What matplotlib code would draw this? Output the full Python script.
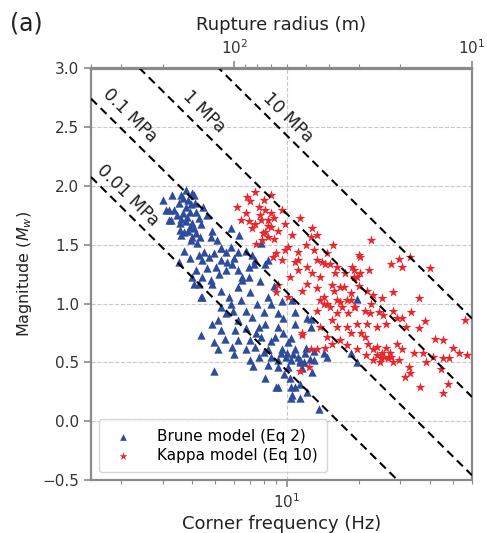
import numpy as np
import matplotlib
matplotlib.use("Agg")
import matplotlib.pyplot as plt
from matplotlib.ticker import LogLocator, LogFormatterMathtext, NullFormatter, FixedLocator

# corner frequency (Hz) and magnitude, Brune model (Eq 2)
brune_fc = [3.6, 4.0, 3.75, 3.2, 3.35, 3.75, 3.95, 4.15, 3.65, 3.8, 3.2, 3.55, 4.0, 4.35, 3.9, 4.15, 3.7, 3.95, 4.2, 3.1,
            3.25, 3.65, 4.05, 3.5, 3.85, 4.1, 3.45, 3.6, 3.9, 4.25, 3.75, 3.85, 4.05, 3.55, 4.3, 3.0, 3.3, 4.45, 4.6, 3.6,
            4.0, 4.85, 4.8, 5.1, 4.5, 4.25, 3.9, 4.4, 5.3, 5.55, 5.8, 6.25, 6.7, 5.3, 5.05, 5.55, 5.85, 6.25, 6.9, 7.35,
            4.15, 4.4, 4.05, 4.8, 5.8, 5.3, 7.1, 8.1, 8.35, 7.3, 6.9, 4.7, 4.95, 5.6, 6.0, 3.7, 3.5, 4.6, 5.2, 6.5,
            7.8, 6.3, 4.0, 4.4, 4.25, 4.85, 5.3, 5.7, 6.25, 6.45, 7.0, 8.35, 8.6, 5.3, 5.55, 5.95, 6.7, 7.1, 6.25, 5.15,
            4.85, 5.3, 4.35, 6.05, 6.7, 7.6, 8.1, 9.2, 8.9, 7.8, 7.0, 6.25, 4.95, 5.15, 5.85, 6.7, 7.35, 8.35, 7.0, 7.6,
            8.6, 9.2, 9.9, 10.4, 11.1, 11.8, 10.1, 9.2, 8.35, 10.8, 9.5, 10.1, 8.1, 4.95, 10.4, 9.2, 10.4, 11.4, 12.2, 10.8,
            10.8, 10.4, 12.2, 12.6, 11.4, 4.35, 13.6, 10.8, 10.5, 12.8, 11.4, 9.0, 19.7, 12.6, 19.7, 18.6, 11.4, 14.3, 14.8, 13.0,
            9.2, 7.5, 8.0, 9.6, 5.8, 6.4, 7.4, 8.6, 9.6, 10.0, 10.6, 11.9, 12.5, 9.4, 8.0, 5.5, 6.0, 7.2, 9.7, 10.3,
            11.6, 12.0, 13.0, 8.8, 9.5, 10.5, 7.7]
brune_mw = [1.92, 1.94, 1.97, 1.80, 1.80, 1.82, 1.85, 1.78, 1.77, 1.74, 1.71, 1.69, 1.69, 1.68, 1.65, 1.60, 1.61, 1.54, 1.52, 1.80,
            1.71, 1.90, 1.92, 1.86, 1.88, 1.86, 1.75, 1.72, 1.78, 1.73, 1.70, 1.62, 1.64, 1.63, 1.57, 1.88, 1.92, 1.82, 1.75, 1.58,
            1.57, 1.62, 1.57, 1.54, 1.44, 1.41, 1.39, 1.37, 1.47, 1.44, 1.48, 1.44, 1.45, 1.37, 1.31, 1.29, 1.34, 1.29, 1.31, 1.37,
            1.29, 1.23, 1.17, 1.20, 1.64, 1.47, 1.41, 1.34, 1.37, 1.34, 1.23, 1.40, 1.43, 1.35, 1.39, 1.45, 1.35, 1.30, 1.25, 1.20,
            1.52, 1.58, 1.23, 1.06, 1.17, 1.17, 1.11, 1.06, 1.14, 1.23, 1.10, 1.06, 1.00, 0.97, 0.92, 0.94, 0.94, 0.89, 0.86, 0.86,
            0.83, 0.78, 0.73, 0.78, 0.79, 0.80, 0.83, 0.80, 0.72, 0.72, 0.69, 0.69, 0.67, 0.61, 0.63, 0.61, 0.63, 0.61, 0.52, 0.55,
            0.55, 0.52, 0.55, 0.52, 0.55, 0.50, 0.46, 0.46, 0.48, 0.61, 0.61, 0.67, 0.37, 0.43, 0.29, 0.29, 0.20, 0.20, 0.25, 0.93,
            0.83, 0.71, 0.88, 0.80, 0.52, 1.06, 0.10, 0.29, 0.22, 0.42, 0.32, 0.29, 1.04, 0.87, 0.50, 0.58, 0.50, 0.58, 0.55, 0.60,
            0.92, 1.00, 0.93, 0.88, 1.00, 1.03, 0.75, 0.68, 0.75, 0.58, 0.57, 0.58, 0.53, 0.58, 0.59, 0.70, 0.57, 0.47, 0.40, 0.37,
            0.45, 0.62, 0.52, 1.15, 1.02, 1.03, 1.19]

# Kappa model (Eq 10)
kappa_fc = [7.35, 6.8, 8.6, 7.0, 6.15, 7.6, 8.1, 8.6, 6.7, 6.4, 7.8, 8.35, 8.85, 7.35, 8.6, 7.1, 8.1, 9.2, 8.35, 7.85,
            8.85, 7.4, 9.85, 11.3, 12.8, 13.4, 12.6, 9.85, 9.0, 10.1, 11.1, 9.5, 8.7, 11.1, 13.0, 13.4, 14.5, 14.8, 16.3, 17.6,
            19.2, 20.3, 19.7, 10.3, 11.1, 12.2, 12.8, 13.8, 12.2, 13.4, 11.6, 9.2, 9.0, 10.1, 14.3, 15.8, 17.3, 14.3, 15.1, 16.7,
            18.6, 19.2, 16.3, 13.4, 20.1, 22.1, 27.5, 29.6, 30.5, 18.8, 19.2, 20.3, 16.0, 15.1, 14.1, 21.7, 23.0, 18.6, 16.7, 15.4,
            13.8, 14.8, 16.3, 17.9, 19.4, 21.2, 22.3, 24.3, 25.4, 27.9, 28.9, 30.5, 33.3, 31.8, 35.8, 45.1, 26.2, 23.9, 21.7, 19.7,
            17.9, 18.6, 16.3, 15.4, 13.8, 14.8, 16.7, 21.2, 23.9, 23.0, 28.9, 30.5, 34.1, 37.4, 41.1, 45.1, 47.8, 24.9, 25.6, 26.6,
            27.5, 24.6, 23.0, 27.9, 29.6, 32.5, 38.5, 44.3, 32.8, 31.3, 36.2, 47.4, 45.1, 11.6, 13.4, 14.5, 17.9, 15.4, 19.7, 21.4,
            11.6, 12.6, 11.4, 12.4, 53.0, 57.0, 56.0, 50.0, 42.0, 38.0, 36.0, 33.0, 40.0, 26.0, 25.0, 27.0, 24.0, 22.0, 20.5, 18.0,
            17.0, 22.5, 25.0, 28.0, 20.0, 10.5, 12.0, 8.0, 7.7, 8.3, 7.9, 9.5, 6.9, 10.8, 15.6, 22.6]
kappa_mw = [1.95, 1.91, 1.92, 1.87, 1.82, 1.82, 1.80, 1.77, 1.77, 1.71, 1.71, 1.71, 1.73, 1.68, 1.65, 1.64, 1.61, 1.62, 1.57, 1.54,
            1.55, 1.51, 1.68, 1.73, 1.64, 1.58, 1.57, 1.46, 1.43, 1.48, 1.44, 1.37, 1.40, 1.37, 1.46, 1.37, 1.34, 1.43, 1.31, 1.26,
            1.29, 1.40, 1.23, 1.23, 1.29, 1.31, 1.26, 1.23, 1.17, 1.13, 1.11, 1.16, 1.10, 1.06, 1.06, 1.11, 1.14, 1.00, 0.97, 1.01,
            1.03, 0.97, 0.92, 0.94, 1.41, 1.29, 1.34, 1.38, 1.31, 1.31, 1.23, 1.26, 1.26, 1.34, 1.35, 1.11, 1.07, 1.09, 1.14, 1.16,
            1.03, 1.00, 1.03, 1.03, 0.97, 0.94, 0.92, 0.93, 0.90, 0.94, 0.88, 0.88, 0.93, 0.80, 0.79, 0.69, 0.83, 0.80, 0.83, 0.83,
            0.80, 0.75, 0.80, 0.86, 0.80, 0.72, 0.69, 0.72, 0.63, 0.61, 0.66, 0.61, 0.58, 0.58, 0.55, 0.54, 0.54, 0.54, 0.55, 0.54,
            0.55, 0.50, 0.52, 0.50, 0.52, 0.46, 0.50, 0.44, 0.41, 0.38, 0.29, 0.32, 0.24, 0.73, 0.61, 0.62, 0.65, 0.66, 0.61, 0.56,
            0.75, 0.61, 0.43, 0.46, 0.58, 0.56, 0.86, 0.62, 0.70, 0.85, 1.05, 1.40, 1.30, 0.62, 0.58, 0.58, 0.56, 0.66, 0.75, 0.92,
            0.97, 1.00, 1.05, 1.10, 1.15, 1.58, 1.50, 1.88, 1.75, 1.66, 1.60, 1.80, 1.70, 1.35, 1.50, 1.54]

stress_drops = [0.01, 0.1, 1, 10]          # MPa
stress_labels = ["0.01 MPa", "0.1 MPa", "1 MPa", "10 MPa"]
label_fc = [2.15, 2.19, 4.48, 10.1]        # where the labels sit
label_mw = [1.92, 2.60, 2.63, 2.58]
radius_ticks = [100, 10]                   # top axis, m

K = 600.0   # rupture radius (m) = K / fc


def mw_line(fc, dsig_mpa):
    r = K / fc
    m0 = 16.0 / 7.0 * dsig_mpa * 1e6 * r ** 3
    return 2.0 / 3.0 * np.log10(m0) - 6.033


fig = plt.figure(figsize=(4.87, 5.33), dpi=100)
ax = fig.add_axes([91 / 487, 1 - 480 / 533, 381 / 487, 411.5 / 533])
ax.set_xscale("log")
ax.set_xlim(1.5, 60)
ax.set_ylim(-0.5, 3.0)

gray = "#8a8a8a"
ax.grid(True, which="major", color="#c8c8c8", linestyle="--", linewidth=0.8)
ax.set_axisbelow(True)

ax.scatter(brune_fc, brune_mw, marker="^", s=36, color="#2f4b9c", linewidths=0,
           label="Brune model (Eq 2)", zorder=3)
ax.scatter(kappa_fc, kappa_mw, marker="*", s=55, color="#e8262e", linewidths=0,
           label="Kappa model (Eq 10)", zorder=3)

fgrid = np.logspace(np.log10(1.5), np.log10(60), 200)
for ds in stress_drops:
    ax.plot(fgrid, mw_line(fgrid, ds), color="black", linestyle=(0, (4, 2.5)), linewidth=1.5, zorder=4)

# rotate labels along the lines
p1 = ax.transData.transform((2.0, mw_line(2.0, 1)))
p2 = ax.transData.transform((20.0, mw_line(20.0, 1)))
ang = np.degrees(np.arctan2(p2[1] - p1[1], p2[0] - p1[0]))
for lab, xf, ym in zip(stress_labels, label_fc, label_mw):
    ax.text(xf, ym, lab, rotation=ang, rotation_mode="anchor", ha="center", va="center",
            fontsize=12.5, color="#222222", zorder=5)

for sp in ax.spines.values():
    sp.set_color(gray)
    sp.set_linewidth(1.6)
ax.tick_params(which="both", colors=gray, labelcolor="#333333", labelsize=11)
ax.tick_params(which="major", length=5, width=1.2)
ax.tick_params(which="minor", length=3, width=0.8)
ax.set_yticks([-0.5, 0.0, 0.5, 1.0, 1.5, 2.0, 2.5, 3.0])
ax.xaxis.set_major_locator(LogLocator(base=10))
ax.xaxis.set_major_formatter(LogFormatterMathtext())
ax.xaxis.set_minor_formatter(NullFormatter())

ax.set_xlabel("Corner frequency (Hz)", fontsize=13, color="#222222", labelpad=3)
ax.set_ylabel("Magnitude ($M_w$)", fontsize=11.5, color="#222222", labelpad=6)

top = ax.secondary_xaxis("top", functions=(lambda f: K / f, lambda r: K / r))
top.xaxis.set_major_locator(FixedLocator(radius_ticks))
top.xaxis.set_minor_locator(LogLocator(base=10, subs=np.arange(2, 10)))
top.xaxis.set_major_formatter(LogFormatterMathtext())
top.xaxis.set_minor_formatter(NullFormatter())
top.tick_params(which="both", colors=gray, labelcolor="#333333", labelsize=11)
top.tick_params(which="major", length=5, width=1.2)
top.tick_params(which="minor", length=3, width=0.8)
top.spines["top"].set_color(gray)
top.spines["top"].set_linewidth(1.6)
top.set_xlabel("Rupture radius (m)", fontsize=13, color="#222222", labelpad=6)

leg = ax.legend(loc="lower left", fontsize=11, frameon=True, borderpad=0.6,
                handletextpad=1.2, labelspacing=0.3, markerscale=0.8)
leg.get_frame().set_edgecolor("#cccccc")

fig.text(0.02, 0.955, "(a)", fontsize=17, color="#222222", va="center")

fig.savefig("out.png", dpi=100)
